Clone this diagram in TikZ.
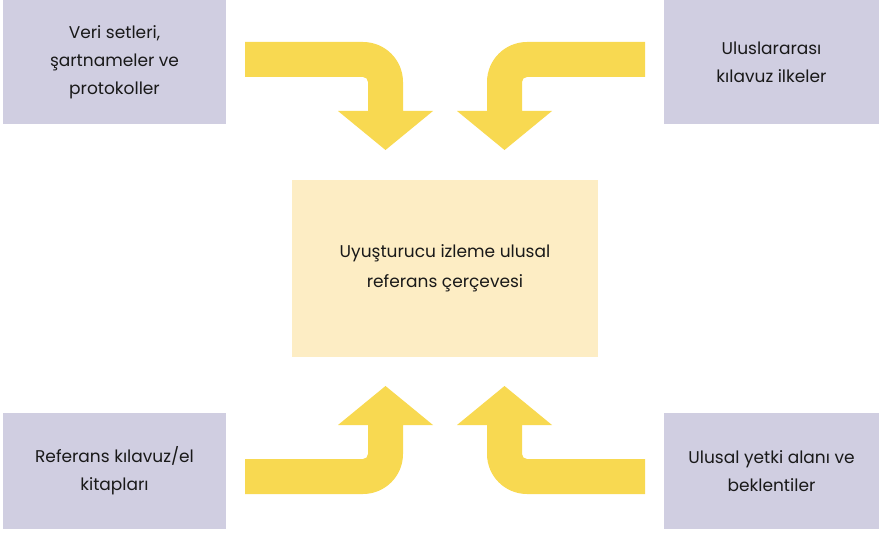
\documentclass[tikz,border=0pt]{standalone}
\usepackage{fontspec}
\setmainfont{Poppins}
\definecolor{boxlav}{HTML}{D0CEE1}
\definecolor{boxcream}{HTML}{FDEDC4}
\definecolor{arrowyel}{HTML}{F8D951}
\newcommand\mybentarrow{%
  \fill[arrowyel] (245,-42) -- (363,-42) arc[start angle=90, end angle=0, radius=40]
    -- (403,-111) -- (433,-111) -- (385.5,-150) -- (338,-111) -- (368,-111)
    -- (368,-82) arc[start angle=0, end angle=90, radius=5] -- (245,-77) -- cycle;}
\tikzset{
  x=1pt, y=1pt,
  sidebox/.style={fill=boxlav, draw=none, inner sep=0pt, align=center,
    font=\fontsize{17}{28}\selectfont, text=black!90},
  centerbox/.style={fill=boxcream, draw=none, inner sep=0pt, align=center,
    font=\fontsize{17}{30}\selectfont, text=black!90}
}
\begin{document}
\begin{tikzpicture}
\useasboundingbox (0,0) rectangle (879,-543);
% boxes
\node[sidebox, minimum width=223, minimum height=124] (tl) at (114.5,-62)
  {Veri setleri,\\ şartnameler ve\\ protokoller};
\node[sidebox, minimum width=215, minimum height=124] (tr) at (771.5,-62)
  {Uluslararası\\ kılavuz ilkeler};
\node[sidebox, minimum width=223, minimum height=116] (bl) at (114.5,-471)
  {Referans kılavuz/el\\ kitapları};
\node[sidebox, minimum width=215, minimum height=116] (br) at (771.5,-471)
  {Ulusal yetki alanı ve\\ beklentiler};
\node[centerbox, minimum width=306, minimum height=177] (c) at (445,-268.5)
  {Uyuşturucu izleme ulusal\\ referans çerçevesi};
% arrows
\begin{scope}
  \mybentarrow
\end{scope}
\begin{scope}[xshift=890pt, xscale=-1]
  \mybentarrow
\end{scope}
\begin{scope}[yshift=-536pt, yscale=-1]
  \mybentarrow
\end{scope}
\begin{scope}[xshift=890pt, yshift=-536pt, xscale=-1, yscale=-1]
  \mybentarrow
\end{scope}
\end{tikzpicture}
\end{document}
